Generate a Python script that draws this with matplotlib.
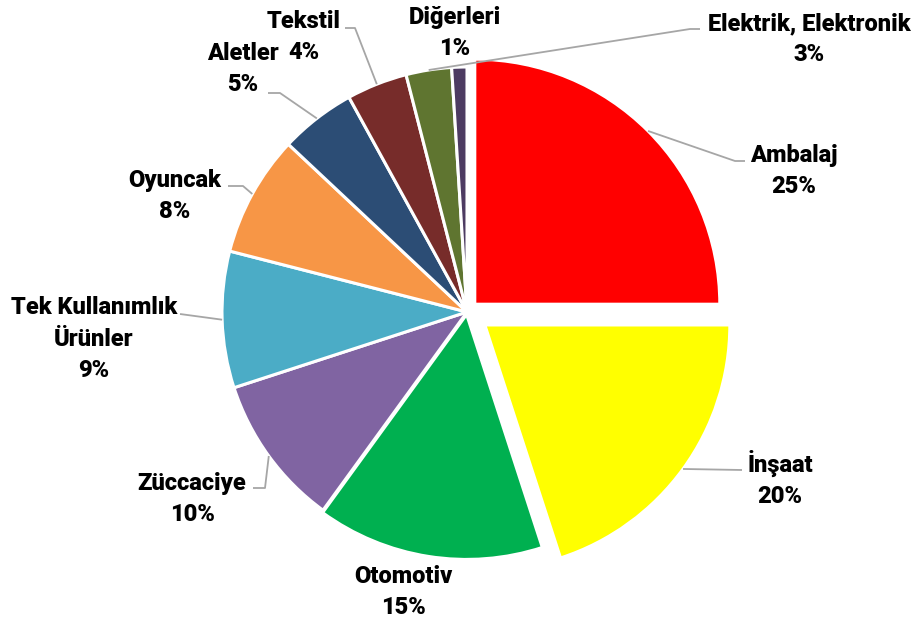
import numpy as np
import matplotlib
matplotlib.use("Agg")
from matplotlib import pyplot as plt

# data
sectors = ["Ambalaj", "İnşaat", "Otomotiv", "Züccaciye", "Tek Kullanımlık\nÜrünler",
           "Oyuncak", "Aletler", "Tekstil", "Elektrik, Elektronik", "Diğerleri"]
shares = [25, 20, 15, 10, 9, 8, 5, 4, 3, 1]
colors = ["#FF0000", "#FFFF00", "#00B050", "#8064A2", "#4BACC6",
          "#F79646", "#2C4D75", "#772C2A", "#5F7530", "#4D3B62"]
explode = [0.045, 0.09, 0.01, 0, 0, 0, 0, 0, 0, 0]

# label block centres and leader elbows, in pixels from top-left
label_pos = [(794, 171), (780, 479), (403, 592), (192, 499), (94, 339),
             (175, 196), (243, 69), (304, 37), (809, 39), (455, 33)]
leaders = [[(735, 161), (745, 161)], [(742, 470)], None, [(265, 488), (253, 488)],
           [(180, 314)], [(243, 186), (228, 186)], [(280, 93), (268, 93)],
           [(355, 28), (345, 28)], [(690, 29), (700, 29)], None]

W, H = 919, 620
CX, CY, R = 467, 312, 245


def px(x, y):
    return (x - CX) / R, (CY - y) / R


plt.rcParams['font.family'] = ['Roboto', 'DejaVu Sans']
fig = plt.figure(figsize=(W / 100, H / 100), dpi=100)
ax = fig.add_axes([0, 0, 1, 1])
wedges, _ = ax.pie(shares, colors=colors, explode=explode, startangle=90,
                   counterclock=False, radius=1,
                   wedgeprops=dict(edgecolor="white", linewidth=2.2))
ax.set_xlim(-CX / R, (W - CX) / R)
ax.set_ylim(-(H - CY) / R, CY / R)
ax.axis("off")

for w, name, val, pos, lead, ex in zip(wedges, sectors, shares, label_pos, leaders, explode):
    ang = np.deg2rad((w.theta1 + w.theta2) / 2)
    if lead:
        sx = np.cos(ang) * (1 + ex)
        sy = np.sin(ang) * (1 + ex)
        pts = [(sx, sy)] + [px(*p) for p in lead]
        xs, ys = zip(*pts)
        ax.plot(xs, ys, color="#A6A6A6", lw=1.3, solid_capstyle="butt")
    tx, ty = px(*pos)
    ax.text(tx, ty, f"{name}\n{val}%", ha="center", va="center",
            multialignment="center", fontsize=17, fontweight="black",
            linespacing=1.45, color="black")

fig.savefig("out.png", dpi=100)
